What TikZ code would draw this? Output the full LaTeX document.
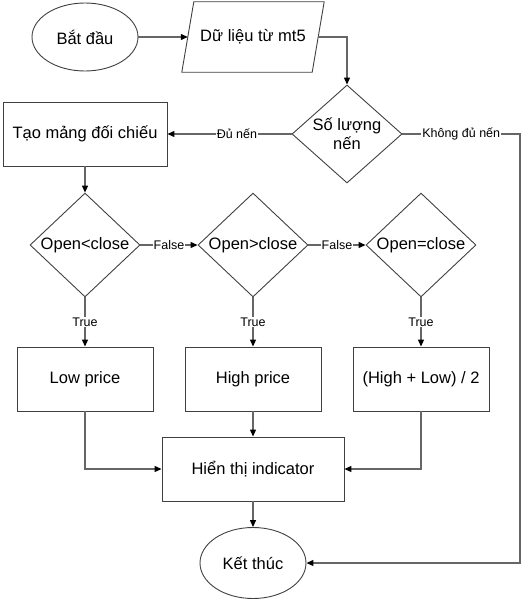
\documentclass[tikz,border=0pt]{standalone}
\usepackage{fontspec}
\setmainfont{Liberation Sans}
\usetikzlibrary{shapes.geometric,arrows.meta}
\newcommand{\mainfnt}{\fontsize{16.5}{19}\selectfont}
\newcommand{\lblfnt}{\fontsize{12.5}{14}\selectfont}

\begin{document}
\begin{tikzpicture}[x=1pt,y=-1pt]
    % `terminal' is used for the start and end ellipses.
    % `io' holds the text of the input parallelogram, `outline' draws it.
    % `decision' is used for the diamonds, `process' for boxes.
    % `flow' is used for connectors, `lbl' for their labels.
    \tikzstyle{outline} = [draw=black!75,line width=0.9pt]
    \tikzstyle{terminal} = [outline,ellipse,minimum width=106pt,minimum height=68pt,inner sep=0pt,font=\mainfnt]
    \tikzstyle{io} = [rectangle,minimum width=130pt,minimum height=70pt,inner sep=0pt,font=\mainfnt]
    \tikzstyle{decision} = [outline,diamond,minimum width=110pt,minimum height=98pt,inner sep=0pt,font=\mainfnt]
    \tikzstyle{process} = [outline,rectangle,minimum width=136pt,minimum height=64pt,inner sep=0pt,font=\mainfnt]
    \tikzstyle{flow} = [draw=black!60,line width=1.2pt,-{Triangle[length=7pt,width=6pt,color=black]}]
    \tikzstyle{lbl} = [fill=white,inner sep=1pt,font=\lblfnt]
    %
    \useasboundingbox (0,0) rectangle (525,602);
    \node[terminal] (start) at (85,37) {Bắt đầu};
    \node[io] (data) at (253,37) {Dữ liệu từ mt5};
    \draw[outline] ([xshift=6pt]data.north west) -- ([xshift=6pt]data.north east)
                   -- ([xshift=-6pt]data.south east) -- ([xshift=-6pt]data.south west) -- cycle;
    \node[decision,inner sep=-3pt,align=center] (count) at (347,134) {Số lượng\\nến};
    \node[process,minimum width=164pt] (array) at (85,134) {Tạo mảng đối chiếu};

    \node[decision] (lt) at (85,245) {Open<close};
    \node[decision] (gt) at (253,245) {Open>close};
    \node[decision] (eq) at (421,245) {Open=close};

    \node[process] (low) at (85,379) {Low price};
    \node[process] (high) at (253,379) {High price};
    \node[process] (avg) at (421,379) {(High + Low) / 2};

    \node[process,minimum width=182pt] (show) at (253,469) {Hiển thị indicator};
    \node[terminal,minimum height=71pt] (stop) at (253,563) {Kết thúc};
    \coordinate (rgt) at (520,134);
    %
    % Draw lines.
    \draw[flow] (start.east) -- (data.west);
    \draw[flow] (data.east) -| (count.north);
    \draw[flow] (count.west) -- node[lbl,pos=0.44] {Đủ nến} (array.east);
    \draw[flow] (count.east) -- node[lbl] {Không đủ nến} (rgt) |- (stop.east);
    \draw[flow] (array.south) -- (lt.north);
    \draw[flow] (lt.east) -- node[lbl] {False} (gt.west);
    \draw[flow] (gt.east) -- node[lbl] {False} (eq.west);
    \draw[flow] (lt.south) -- node[lbl] {True} (low.north);
    \draw[flow] (gt.south) -- node[lbl] {True} (high.north);
    \draw[flow] (eq.south) -- node[lbl] {True} (avg.north);
    \draw[flow] (low.south) |- (show.west);
    \draw[flow] (high.south) -- (show.north);
    \draw[flow] (avg.south) |- (show.east);
    \draw[flow] (show.south) -- (stop.north);
\end{tikzpicture}
\end{document}
